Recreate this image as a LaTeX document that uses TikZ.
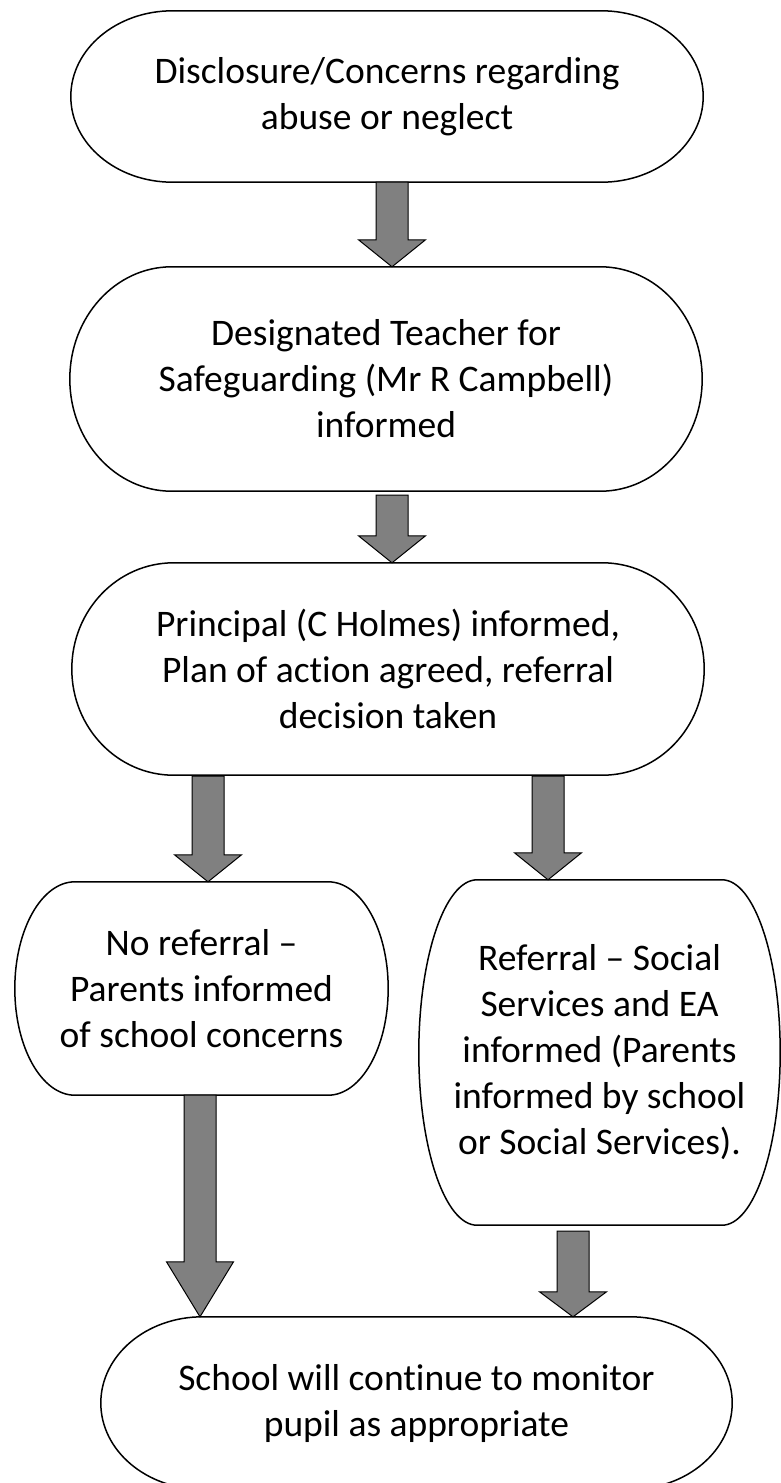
\documentclass[tikz,border=0pt]{standalone}
\usepackage{fontspec}
\setmainfont{Carlito}[Ligatures=CommonOff]
\usetikzlibrary{calc}

\begin{document}
\begin{tikzpicture}[x=1pt, y=-1pt,
  myterm/.style = {align=center, inner sep=0pt, font=\fontsize{37.5}{46}\selectfont},
  myline/.style = {draw=black, line width=1.5pt},
  myarrow/.style = {fill=gray, draw=black, line width=1pt, line join=miter}]
\useasboundingbox (0,0) rectangle (781,1483);
\node[myterm, minimum width=632pt, minimum height=171pt] (disclosure) at (387,96.5) {Disclosure/Concerns regarding\\abuse or neglect};
\node[myterm, minimum width=632pt, minimum height=224pt] (teacher) at (386,379) {Designated Teacher for\\Safeguarding (Mr R Campbell)\\informed};
\node[myterm, minimum width=632pt, minimum height=212pt] (principal) at (388,669) {Principal (C Holmes) informed,\\Plan of action agreed, referral\\decision taken};
\node[myterm, minimum width=373pt, minimum height=213pt] (noref) at (201.5,988.5) {No referral --\\Parents informed\\of school concerns};
\node[myterm, minimum width=361pt, minimum height=345pt] (referral) at (599.5,1052.5) {Referral -- Social\\Services and EA\\informed (Parents\\informed by school\\or Social Services).};
\node[myterm, minimum width=631pt, minimum height=172pt] (monitor) at (416.5,1403) {School will continue to monitor\\pupil as appropriate};
\foreach \nd in {disclosure,teacher,principal,noref,referral,monitor}
  \draw[myline] let \p1=(\nd.north east), \p2=(\nd.south west), \n1={0.161*(\x1-\x2)}, \n2={0.5*(\y1-\y2)} in
    (\nd.west) arc[start angle=180, end angle=90, x radius=\n1, y radius=\n2]
    -- ([xshift=-\n1]\nd.north east) arc[start angle=90, end angle=-90, x radius=\n1, y radius=\n2]
    -- ([xshift=\n1]\nd.south west) arc[start angle=270, end angle=180, x radius=\n1, y radius=\n2] -- cycle;
\foreach \a/\dx/\g/\b/\hl in {disclosure/5/0/teacher/27, teacher/6/4/principal/27, principal/-180/1/noref/27, principal/160/1/referral/27, noref/-1.5/0/monitor/55, referral/-26.5/6/monitor/25}
  \filldraw[myarrow] let \p1=([shift={(\dx,\g)}]\a.south), \p2=(\b.north) in
    (\x1-16pt,\y1) -- (\x1+16pt,\y1) -- (\x1+16pt,\y2+\hl pt) -- (\x1+33.5pt,\y2+\hl pt)
    -- (\x1,\y2) -- (\x1-33.5pt,\y2+\hl pt) -- (\x1-16pt,\y2+\hl pt) -- cycle;
\end{tikzpicture}
\end{document}
